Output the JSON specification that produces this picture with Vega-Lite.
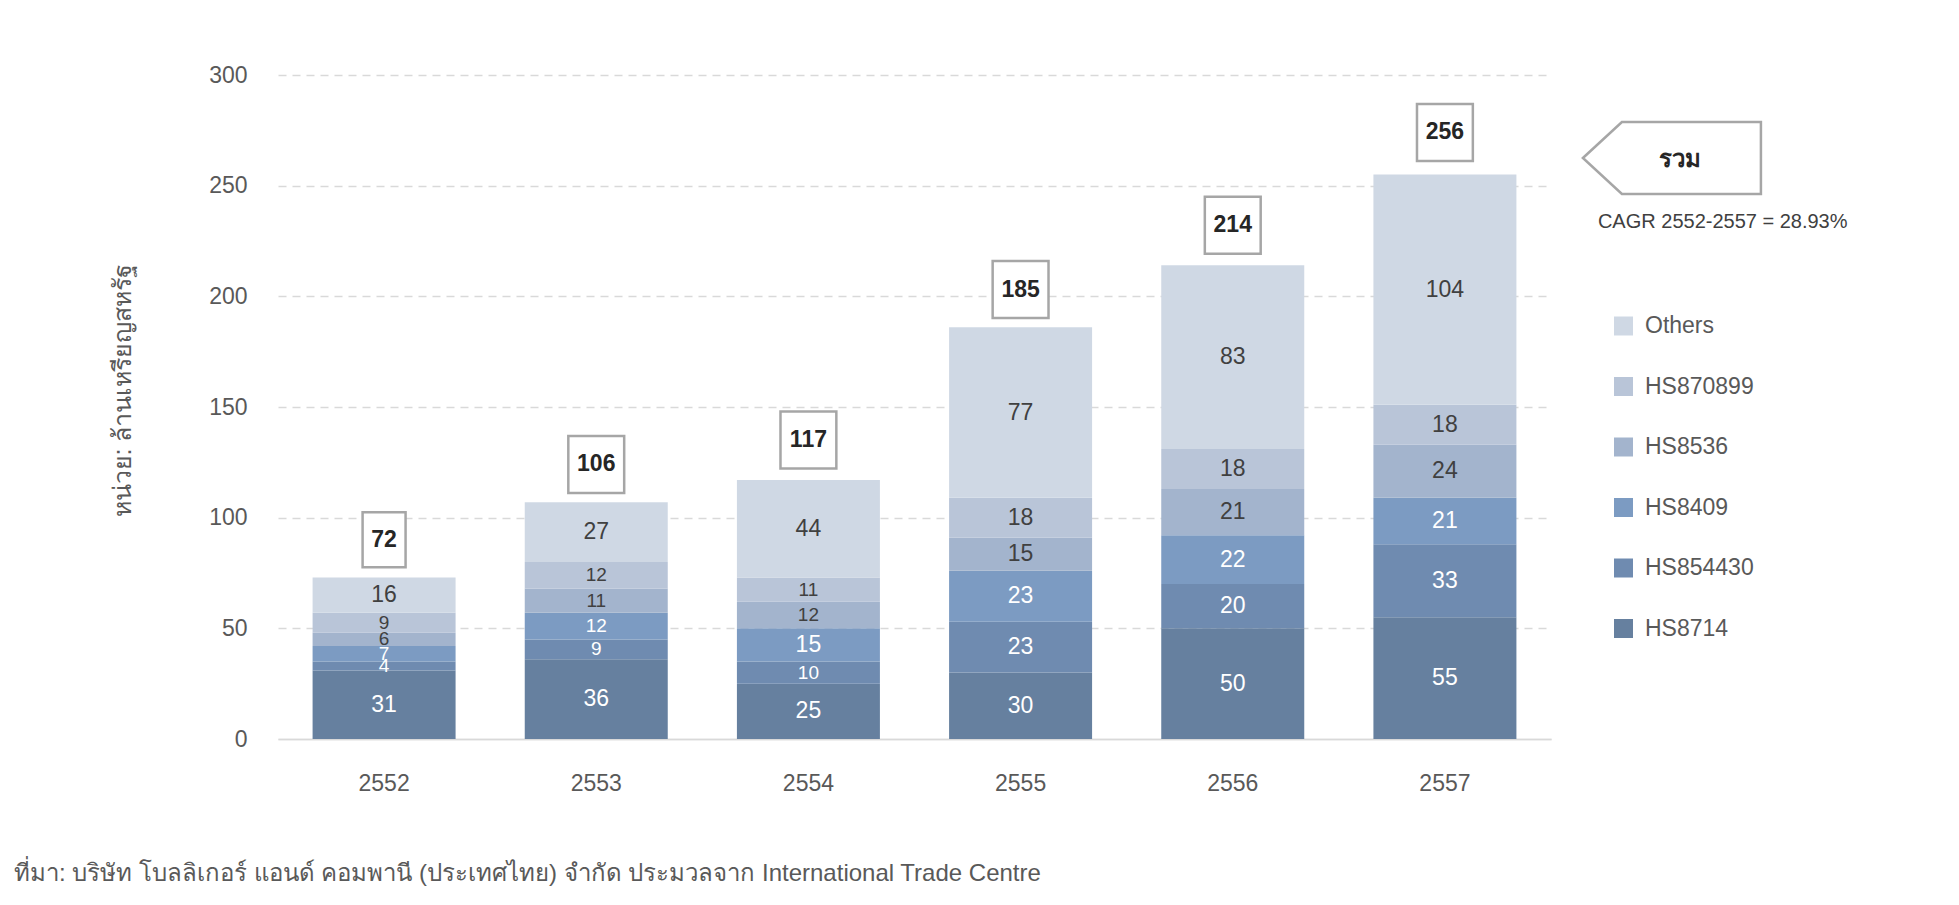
{
  "$schema": "https://vega.github.io/schema/vega-lite/v6.json",
  "width": 1273,
  "height": 664,
  "autosize": {"type": "none"},
  "padding": {"left": 278, "top": 75, "right": 408, "bottom": 166},
  "background": "white",
  "config": {
    "font": "Liberation Sans, Arial, sans-serif",
    "view": {"stroke": null}
  },
  "title": {
    "text": "ที่มา: บริษัท โบลลิเกอร์ แอนด์ คอมพานี (ประเทศไทย) จำกัด ประมวลจาก International Trade Centre",
    "orient": "bottom",
    "anchor": "start",
    "frame": "group",
    "dx": -264,
    "offset": 67,
    "fontSize": 24,
    "fontWeight": "normal",
    "color": "#595959"
  },
  "datasets": {
    "seg": [
      {"year": "2552", "series": "HS8714", "value": 31},
      {"year": "2552", "series": "HS854430", "value": 4},
      {"year": "2552", "series": "HS8409", "value": 7},
      {"year": "2552", "series": "HS8536", "value": 6},
      {"year": "2552", "series": "HS870899", "value": 9},
      {"year": "2552", "series": "Others", "value": 16},
      {"year": "2553", "series": "HS8714", "value": 36},
      {"year": "2553", "series": "HS854430", "value": 9},
      {"year": "2553", "series": "HS8409", "value": 12},
      {"year": "2553", "series": "HS8536", "value": 11},
      {"year": "2553", "series": "HS870899", "value": 12},
      {"year": "2553", "series": "Others", "value": 27},
      {"year": "2554", "series": "HS8714", "value": 25},
      {"year": "2554", "series": "HS854430", "value": 10},
      {"year": "2554", "series": "HS8409", "value": 15},
      {"year": "2554", "series": "HS8536", "value": 12},
      {"year": "2554", "series": "HS870899", "value": 11},
      {"year": "2554", "series": "Others", "value": 44},
      {"year": "2555", "series": "HS8714", "value": 30},
      {"year": "2555", "series": "HS854430", "value": 23},
      {"year": "2555", "series": "HS8409", "value": 23},
      {"year": "2555", "series": "HS8536", "value": 15},
      {"year": "2555", "series": "HS870899", "value": 18},
      {"year": "2555", "series": "Others", "value": 77},
      {"year": "2556", "series": "HS8714", "value": 50},
      {"year": "2556", "series": "HS854430", "value": 20},
      {"year": "2556", "series": "HS8409", "value": 22},
      {"year": "2556", "series": "HS8536", "value": 21},
      {"year": "2556", "series": "HS870899", "value": 18},
      {"year": "2556", "series": "Others", "value": 83},
      {"year": "2557", "series": "HS8714", "value": 55},
      {"year": "2557", "series": "HS854430", "value": 33},
      {"year": "2557", "series": "HS8409", "value": 21},
      {"year": "2557", "series": "HS8536", "value": 24},
      {"year": "2557", "series": "HS870899", "value": 18},
      {"year": "2557", "series": "Others", "value": 104}
    ],
    "tot": [
      {"year": "2552", "total": 72},
      {"year": "2553", "total": 106},
      {"year": "2554", "total": 117},
      {"year": "2555", "total": 185},
      {"year": "2556", "total": 214},
      {"year": "2557", "total": 256}
    ],
    "note": [
      {"label": "รวม", "cagr": "CAGR 2552-2557 = 28.93%"}
    ]
  },
  "encoding": {
    "x": {
      "field": "year",
      "type": "nominal",
      "scale": {"paddingInner": 0.326, "paddingOuter": 0.163},
      "axis": {
        "title": null,
        "labelAngle": 0,
        "labelFontSize": 23,
        "labelColor": "#595959",
        "labelPadding": 33,
        "ticks": false,
        "domain": true,
        "domainColor": "#d9d9d9",
        "domainWidth": 1.5,
        "grid": false
      }
    }
  },
  "layer": [
    {
      "data": {"name": "seg"},
      "transform": [
        {"window": [{"op": "row_number", "as": "rn"}], "groupby": ["year"]}
      ],
      "layer": [
        {
          "mark": {"type": "bar"},
          "encoding": {
            "y": {
              "field": "value",
              "type": "quantitative",
              "stack": "zero",
              "scale": {"domain": [0, 300], "nice": false},
              "axis": {
                "title": "หน่วย: ล้านเหรียญสหรัฐ",
                "titleFontSize": 25,
                "titleFontWeight": "normal",
                "titleColor": "#595959",
                "titleX": -156,
                "titleY": 315,
                "titleAngle": -90,
                "titleAlign": "center",
                "titleBaseline": "middle",
                "values": [0, 50, 100, 150, 200, 250, 300],
                "labelFontSize": 23,
                "labelColor": "#595959",
                "labelPadding": 31,
                "ticks": false,
                "domain": false,
                "grid": true,
                "gridColor": "#d9d9d9",
                "gridWidth": 1.5,
                "gridDash": {"condition": {"test": "datum.value === 0", "value": []}, "value": [8, 6]}
              }
            },
            "order": {"field": "rn", "type": "quantitative", "sort": "ascending"},
            "color": {
              "field": "series",
              "type": "nominal",
              "scale": {
                "domain": ["Others", "HS870899", "HS8536", "HS8409", "HS854430", "HS8714"],
                "range": ["#cfd8e4", "#b9c5d8", "#a3b4cd", "#7c9bc2", "#6f8bb0", "#66809f"]
              },
              "legend": {
                "title": null,
                "orient": "none",
                "legendX": 1334,
                "legendY": 239.5,
                "symbolType": "square",
                "symbolSize": 361,
                "symbolStrokeWidth": 0,
                "labelFontSize": 23,
                "labelColor": "#595959",
                "labelOffset": 10,
                "rowPadding": 36.5,
                "padding": 0
              }
            }
          }
        },
        {
          "mark": {"type": "text", "baseline": "middle", "align": "center"},
          "encoding": {
            "y": {"field": "value", "type": "quantitative", "stack": "zero", "bandPosition": 0.5},
            "detail": {"field": "series", "type": "nominal"},
            "order": {"field": "rn", "type": "quantitative", "sort": "ascending"},
            "text": {"field": "value", "type": "quantitative"},
            "size": {"condition": {"test": "datum.value < 13", "value": 19}, "value": 23},
            "color": {
              "condition": {"test": "indexof(['HS8714','HS854430','HS8409'], datum.series) >= 0", "value": "#ffffff"},
              "value": "#404040"
            }
          }
        }
      ]
    },
    {
      "data": {"name": "tot"},
      "transform": [{"filter": "datum.total < 100"}],
      "mark": {
        "type": "point",
        "shape": "M-0.754,-0.965L0.754,-0.965L0.754,0.965L-0.754,0.965Z",
        "size": 3249,
        "filled": true,
        "fill": "#ffffff",
        "stroke": "#a6a6a6",
        "strokeWidth": 2.5,
        "opacity": 1,
        "yOffset": -40
      },
      "encoding": {"y": {"field": "total", "type": "quantitative"}}
    },
    {
      "data": {"name": "tot"},
      "transform": [{"filter": "datum.total >= 100"}],
      "mark": {
        "type": "point",
        "shape": "M-0.98,-1L0.98,-1L0.98,1L-0.98,1Z",
        "size": 3249,
        "filled": true,
        "fill": "#ffffff",
        "stroke": "#a6a6a6",
        "strokeWidth": 2.5,
        "opacity": 1,
        "yOffset": -40
      },
      "encoding": {"y": {"field": "total", "type": "quantitative"}}
    },
    {
      "data": {"name": "tot"},
      "mark": {"type": "text", "fontSize": 23, "fontWeight": "bold", "color": "#262626", "baseline": "middle", "yOffset": -40},
      "encoding": {
        "y": {"field": "total", "type": "quantitative"},
        "text": {"field": "total", "type": "quantitative"}
      }
    },
    {
      "data": {"name": "note"},
      "mark": {
        "type": "point",
        "shape": "M-1,0L-0.562,-0.4045L1,-0.4045L1,0.4045L-0.562,0.4045Z",
        "size": 31684,
        "filled": true,
        "fill": "#ffffff",
        "stroke": "#a6a6a6",
        "strokeWidth": 2.5,
        "opacity": 1,
        "xOffset": 227
      },
      "encoding": {
        "x": {"datum": "2557", "type": "nominal"},
        "y": {"datum": 262.5, "type": "quantitative"}
      }
    },
    {
      "data": {"name": "note"},
      "mark": {"type": "text", "fontSize": 24, "fontWeight": "bold", "color": "#262626", "baseline": "middle", "align": "center", "xOffset": 235},
      "encoding": {
        "x": {"datum": "2557", "type": "nominal"},
        "y": {"datum": 261.6, "type": "quantitative"},
        "text": {"field": "label"}
      }
    },
    {
      "data": {"name": "note"},
      "mark": {"type": "text", "fontSize": 20, "color": "#404040", "baseline": "middle", "align": "left", "xOffset": 153},
      "encoding": {
        "x": {"datum": "2557", "type": "nominal"},
        "y": {"datum": 233.5, "type": "quantitative"},
        "text": {"field": "cagr"}
      }
    }
  ]
}
